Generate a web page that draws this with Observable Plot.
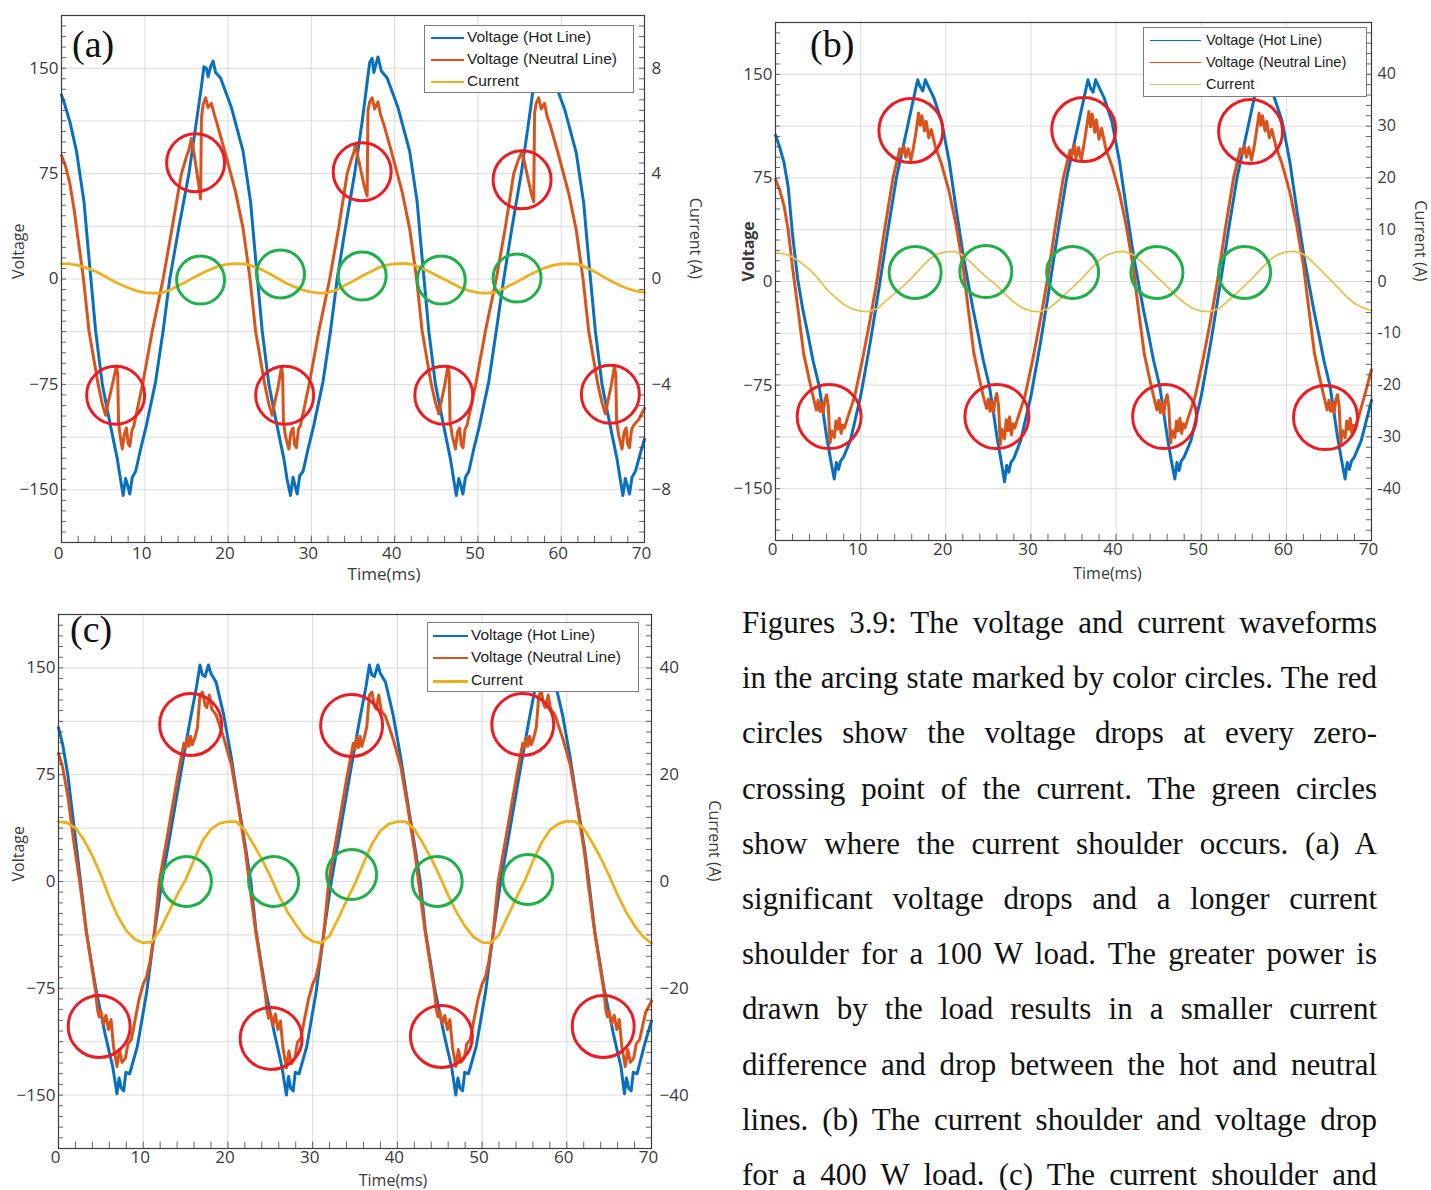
<!DOCTYPE html>
<html><head><meta charset="utf-8">
<script src="https://cdn.jsdelivr.net/npm/d3@7"></script>
<script src="https://cdn.jsdelivr.net/npm/@observablehq/plot@0.6"></script>
<style>
html,body{margin:0;padding:0;background:#fff}
body{position:relative;width:1431px;height:1190px;overflow:hidden;font-family:"Open Sans",sans-serif}
.panel{position:absolute}
.legend{position:absolute;background:#fff;border:1px solid #7d7d7d;font-family:"Liberation Sans",Arial,sans-serif;color:#222;box-sizing:border-box}
.li{position:absolute;white-space:nowrap;line-height:1}
.ll{position:absolute;height:0}
.tag{position:absolute;font-family:"Liberation Serif","Times New Roman",serif;font-size:38px;line-height:38px;color:#111}
.cap{position:absolute;left:742px;width:635px;font-family:"Liberation Serif","Times New Roman",serif;font-size:31px;line-height:55px;height:55px;text-align:justify;text-align-last:justify;color:#111;white-space:normal}
</style></head><body>
<script>
// ---------- shared ----------
const timeTicks = [0,10,20,30,40,50,60,70];
const voltTicks = [150,75,0,-75,-150];
const tCur = [0,1,2,3,4,5,6,7,8,9,10,11,12,13,14,15,16,17,18,19,20,21,22,23,24,25,26,27,28,29,30,31,32,33,34,35,36,37,38,39,40,41,42,43,44,45,46,47,48,49,50,51,52,53,54,55,56,57,58,59,60,61,62,63,64,65,66,67,68,69,70];
const seriesNames = ["Voltage (Hot Line)", "Voltage (Neutral Line)", "Current"];

// ---------- panel (a): [time ms, volts] ----------
const aHot = [[0,131],[0.4,124],[1,112],[1.8,91],[2.7,55],[3.1,28],[3.5,2],[4.1,-37],[4.9,-75],[5.8,-102],[6.7,-128],[7.1,-143],[7.4,-154],[7.7,-142],[7.95,-147],[8.2,-153],[8.5,-141],[8.9,-137],[9.5,-121],[10.2,-104],[11.3,-73],[12.2,-37],[13,0],[14.1,37],[15.3,75],[16.2,112],[16.8,137],[17.1,151],[17.4,150],[17.6,144],[17.9,151],[18.2,155],[18.5,147],[19.1,143],[20.4,122],[21.8,91],[22.7,55],[23.1,28],[23.5,2],[24.1,-37],[24.9,-75],[25.8,-102],[26.7,-128],[27.1,-143],[27.5,-154],[27.8,-141],[28,-146],[28.3,-153],[28.6,-140],[29,-137],[29.6,-121],[30.3,-104],[31.4,-73],[32.3,-37],[33.1,0],[34.1,37],[35.2,75],[36.1,112],[36.7,140],[37,154],[37.3,157],[37.5,147],[37.8,154],[38,158],[38.4,148],[39.1,143],[40.4,122],[41.8,91],[42.7,55],[43.1,28],[43.5,2],[44.1,-37],[44.9,-75],[45.8,-102],[46.7,-128],[47.1,-143],[47.4,-154],[47.7,-142],[47.95,-147],[48.2,-153],[48.5,-141],[48.9,-137],[49.5,-121],[50.2,-104],[51.3,-73],[52.2,-37],[53.1,0],[54.1,37],[55.2,75],[56.1,112],[56.7,138],[57,151],[57.3,152],[57.5,145],[57.8,151],[58.1,156],[58.4,147],[59.1,142],[60.4,121],[61.8,90],[62.7,54],[63.1,27],[63.5,1],[64.1,-37],[64.9,-75],[65.8,-102],[66.7,-128],[67.1,-143],[67.4,-154],[67.7,-142],[67.95,-147],[68.2,-153],[68.5,-141],[68.9,-137],[69.5,-124],[70,-114]];
const aNeu = [[0,88],[0.5,80],[1,68],[1.5,50],[2,28],[2.6,2],[3.3,-37],[4.4,-75],[4.9,-89],[5.3,-97],[5.6,-88],[6,-78],[6.3,-70],[6.6,-62],[6.75,-68],[6.85,-102],[7,-110],[7.3,-121],[7.55,-110],[7.8,-106],[8,-117],[8.2,-119],[8.45,-108],[8.7,-104],[9.2,-90],[9.8,-73],[10.9,-37],[12.2,0],[13.3,37],[14.4,75],[15,87],[15.3,92],[15.6,100],[15.9,90],[16.2,78],[16.5,66],[16.7,57],[16.8,114],[17,124],[17.3,129],[17.6,122],[18,125],[18.3,118],[18.7,110],[19.6,91],[20.9,62],[21.8,36],[22.6,2],[23.3,-37],[24.4,-75],[24.9,-89],[25.3,-97],[25.6,-88],[26,-77],[26.4,-63],[26.55,-68],[26.65,-102],[26.9,-112],[27.3,-121],[27.55,-109],[27.8,-106],[28,-118],[28.2,-120],[28.45,-107],[28.7,-104],[29.2,-90],[29.8,-73],[30.9,-37],[32.2,0],[33.3,37],[34.3,75],[34.8,85],[35.1,90],[35.3,95],[35.7,84],[36.1,73],[36.4,65],[36.7,59],[36.8,120],[37,126],[37.3,129],[37.6,121],[38,126],[38.3,117],[38.7,110],[39.6,91],[40.9,62],[41.8,36],[42.6,2],[43.3,-37],[44.4,-75],[44.9,-88],[45.3,-96],[45.6,-87],[46,-76],[46.4,-62],[46.55,-68],[46.65,-101],[46.9,-111],[47.3,-121],[47.55,-109],[47.8,-106],[48,-118],[48.2,-120],[48.45,-107],[48.7,-104],[49.2,-90],[49.8,-73],[50.9,-37],[52.2,0],[53.3,37],[54.3,75],[54.8,84],[55.1,88],[55.3,91],[55.7,80],[56.1,69],[56.4,61],[56.7,55],[56.8,118],[57,125],[57.3,129],[57.6,121],[58,125],[58.3,116],[58.7,109],[59.6,90],[60.9,61],[61.8,35],[62.6,1],[63.3,-37],[64.4,-75],[64.9,-88],[65.3,-96],[65.6,-87],[66,-76],[66.4,-62],[66.55,-68],[66.65,-101],[66.9,-111],[67.3,-121],[67.55,-109],[67.8,-106],[68,-118],[68.2,-120],[68.45,-107],[68.7,-104],[69.3,-100],[70,-92]];
const aCur = [0.58,0.57,0.52,0.42,0.30,0.14,-0.04,-0.20,-0.33,-0.45,-0.52,-0.54,-0.53,-0.42,-0.26,-0.10,0.08,0.24,0.38,0.50,0.56,0.58,0.57,0.49,0.36,0.20,0.02,-0.16,-0.30,-0.42,-0.50,-0.54,-0.52,-0.42,-0.25,-0.08,0.10,0.26,0.42,0.53,0.57,0.59,0.56,0.45,0.30,0.14,-0.02,-0.18,-0.34,-0.45,-0.52,-0.54,-0.51,-0.38,-0.22,-0.06,0.12,0.28,0.42,0.52,0.57,0.58,0.56,0.44,0.28,0.10,-0.08,-0.24,-0.37,-0.46,-0.51];
const aCurTicks = [8,4,0,-4,-8];
const aRed = [[16.1,82.7],[36.1,76.3],[55.3,70.6],[6.5,-82.7],[26.8,-82.7],[45.9,-82.7],[65.9,-82]];
const aGreen = [[16.7,-0.7],[26.3,3.6],[36.1,2.1],[45.6,-0.7],[54.7,0.7]];

// ---------- panel (b) ----------
const bHot = [[0,106],[0.5,97],[1,86],[1.5,68],[2,34],[2.6,2],[3.2,-20],[3.8,-38],[4.4,-57],[5.1,-75],[5.6,-95],[6,-112],[6.5,-130],[6.9,-143],[7.15,-131],[7.4,-136],[7.65,-130],[8,-127],[8.8,-115],[10,-83],[11.1,-45],[12.2,-3],[13.2,37],[14.2,75],[15.5,112],[16.2,132],[16.7,146],[17,141],[17.3,138],[17.6,146],[17.9,142],[18.6,133],[19.5,116],[20.4,87],[21.2,53],[22.1,17],[22.6,0],[23.2,-20],[23.8,-38],[24.4,-57],[25.1,-75],[25.6,-95],[26,-112],[26.5,-130],[26.9,-145],[27.15,-133],[27.4,-138],[27.65,-131],[28,-128],[28.8,-115],[30,-83],[31.1,-45],[32.2,-3],[33.2,37],[34.2,75],[35.5,112],[36.2,132],[36.7,146],[37,140],[37.3,137],[37.6,146],[37.9,142],[38.6,133],[39.5,116],[40.4,87],[41.2,53],[42.1,17],[42.6,0],[43.2,-20],[43.8,-38],[44.4,-57],[45.1,-75],[45.6,-95],[46,-112],[46.5,-130],[46.9,-143],[47.15,-131],[47.4,-137],[47.65,-130],[48,-127],[48.8,-115],[50,-83],[51.1,-45],[52.2,-3],[53.2,37],[54.2,75],[55.5,112],[56.2,132],[56.7,146],[57,141],[57.3,138],[57.6,146],[57.9,142],[58.6,133],[59.5,116],[60.4,87],[61.2,53],[62.1,17],[62.6,0],[63.2,-20],[63.8,-38],[64.4,-57],[65.1,-75],[65.6,-95],[66,-112],[66.5,-130],[66.9,-143],[67.15,-131],[67.4,-136],[67.65,-130],[68,-127],[68.8,-115],[70,-86]];
const bNeu = [[0,74],[0.5,66],[1,55],[1.5,37],[2,10],[2.6,-18],[3.3,-52],[4,-72],[4.4,-83],[4.8,-93],[5,-86],[5.2,-94],[5.4,-88],[5.6,-95],[5.8,-86],[6,-82],[6.2,-90],[6.4,-117],[6.6,-108],[6.9,-113],[7.1,-101],[7.3,-107],[7.5,-99],[7.7,-110],[7.9,-104],[8.1,-106],[8.4,-100],[9.3,-83],[10.2,-57],[11.1,-28],[11.9,0],[12.8,37],[13.8,75],[14.6,96],[14.8,92],[15.1,98],[15.3,90],[15.6,96],[15.9,88],[16.2,97],[16.5,108],[16.8,122],[17,113],[17.2,120],[17.5,109],[17.7,116],[18,104],[18.3,110],[18.8,97],[19.5,85],[20.4,65],[21.2,41],[22,12],[22.6,-18],[23.3,-52],[24,-72],[24.4,-83],[24.8,-92],[25,-85],[25.2,-94],[25.4,-87],[25.6,-95],[25.8,-85],[26,-81],[26.2,-90],[26.4,-118],[26.6,-107],[26.9,-114],[27.1,-100],[27.3,-108],[27.5,-98],[27.7,-111],[27.9,-103],[28.1,-106],[28.4,-100],[29.3,-83],[30.2,-57],[31.1,-28],[31.9,0],[32.8,37],[33.8,75],[34.6,95],[34.8,91],[35.1,99],[35.3,89],[35.6,97],[35.9,88],[36.2,98],[36.5,110],[36.8,123],[37,112],[37.2,121],[37.5,108],[37.7,117],[38,103],[38.3,111],[38.8,96],[39.5,84],[40.4,64],[41.2,40],[42,11],[42.6,-19],[43.3,-52],[44,-72],[44.4,-83],[44.8,-93],[45,-86],[45.2,-95],[45.4,-88],[45.6,-96],[45.8,-86],[46,-82],[46.2,-91],[46.4,-117],[46.6,-108],[46.9,-113],[47.1,-101],[47.3,-108],[47.5,-99],[47.7,-110],[47.9,-103],[48.1,-106],[48.4,-100],[49.3,-83],[50.2,-57],[51.1,-28],[51.9,0],[52.8,37],[53.8,75],[54.6,96],[54.8,92],[55.1,98],[55.3,90],[55.6,97],[55.9,88],[56.2,97],[56.5,109],[56.8,122],[57,113],[57.2,120],[57.5,109],[57.7,116],[58,104],[58.3,110],[58.8,97],[59.5,85],[60.4,65],[61.2,41],[62,12],[62.6,-18],[63.3,-52],[64,-72],[64.4,-83],[64.8,-93],[65,-86],[65.2,-94],[65.4,-88],[65.6,-95],[65.8,-86],[66,-82],[66.2,-90],[66.4,-117],[66.6,-108],[66.9,-113],[67.1,-101],[67.3,-107],[67.5,-99],[67.7,-110],[67.9,-104],[68.1,-106],[68.4,-100],[69.3,-80],[70,-64]];
const bCur = [5.5,5.4,4.7,3.6,2.3,0.6,-1.5,-3.0,-4.4,-5.3,-5.7,-5.8,-5.2,-3.7,-2.3,-0.9,0.7,2.5,4.2,5.3,5.7,5.8,5.1,3.6,2.0,0.5,-0.8,-2.5,-4.0,-5.1,-5.7,-5.8,-5.3,-4.0,-2.5,-1.0,0.6,2.4,4.1,5.2,5.7,5.8,5.2,3.8,2.2,0.6,-1.0,-2.7,-4.1,-5.2,-5.7,-5.8,-5.3,-4.0,-2.5,-1.0,0.6,2.4,4.1,5.2,5.7,5.8,5.3,3.9,2.3,0.6,-1.1,-2.8,-4.2,-5.1,-5.6];
const bCurTicks = [40,30,20,10,0,-10,-20,-30,-40];
const bRed = [[15.9,109.3],[36.2,110],[55.8,108.6],[6.3,-97.8],[26,-97.8],[45.7,-97.8],[64.6,-98.5]];
const bGreen = [[16.4,6.5],[24.7,7.2],[34.9,6.5],[44.8,6.5],[55.1,6.5]];

// ---------- panel (c) ----------
const cHot = [[0,108],[0.5,96],[1.1,75],[1.8,40],[2.6,0],[3.3,-36],[4.4,-75],[5.5,-107],[6,-120],[6.4,-130],[6.9,-149],[7.15,-138],[7.4,-145],[7.7,-147],[7.95,-134],[8.4,-135],[9.3,-116],[10.4,-78],[11.3,-37],[12.2,0],[13.3,37],[14.4,75],[15.5,112],[16.3,137],[16.7,152],[17,145],[17.3,144],[17.7,152],[18,146],[18.6,140],[19.5,117],[20.4,87],[21.2,56],[22.1,23],[22.7,0],[23.3,-34],[24.4,-75],[25.5,-107],[26,-120],[26.4,-131],[26.9,-150],[27.15,-137],[27.4,-145],[27.7,-147],[27.95,-134],[28.4,-135],[29.3,-116],[30.4,-78],[31.3,-37],[32.2,0],[33.3,37],[34.4,75],[35.5,112],[36.3,137],[36.7,152],[37,145],[37.3,144],[37.7,152],[38,146],[38.6,140],[39.5,117],[40.4,87],[41.2,56],[42.1,23],[42.7,0],[43.3,-34],[44.4,-75],[45.5,-107],[46,-120],[46.4,-130],[46.9,-150],[47.15,-138],[47.4,-145],[47.7,-147],[47.95,-134],[48.4,-135],[49.3,-116],[50.4,-78],[51.3,-37],[52.2,0],[53.3,37],[54.4,75],[55.5,112],[56.3,137],[56.7,152],[57,145],[57.3,144],[57.7,152],[58,146],[58.6,140],[59.5,117],[60.4,87],[61.2,56],[62.1,23],[62.6,0],[63.3,-35],[64.4,-75],[65.5,-107],[66,-120],[66.4,-130],[66.8,-149],[67.05,-138],[67.3,-145],[67.6,-147],[67.85,-134],[68.3,-135],[69.2,-114],[70,-98]];
const cNeu = [[0,90],[0.5,80],[1.1,60],[1.8,28],[2.5,0],[3.3,-36],[4.4,-78],[4.6,-90],[4.8,-95],[5,-91],[5.3,-100],[5.6,-94],[5.9,-104],[6.2,-97],[6.5,-116],[6.9,-130],[7.2,-118],[7.5,-127],[7.9,-124],[8.2,-114],[8.6,-111],[9.5,-83],[10,-72],[10.4,-67],[10.8,-56],[11.3,-37],[11.9,0],[13,37],[14.1,75],[14.8,97],[15,94],[15.2,101],[15.4,95],[15.6,102],[15.8,96],[16.1,101],[16.4,108],[16.7,131],[17,133],[17.3,124],[17.5,122],[17.8,131],[18.1,121],[18.6,117],[19.5,101],[20.4,82],[21.2,54],[22.1,20],[22.5,0],[23.3,-36],[24.4,-78],[24.6,-90],[24.8,-96],[25,-92],[25.3,-101],[25.6,-93],[25.9,-104],[26.2,-98],[26.5,-117],[26.9,-131],[27.2,-119],[27.5,-128],[27.9,-124],[28.2,-113],[28.6,-110],[29.5,-83],[30,-72],[30.4,-67],[30.8,-56],[31.3,-37],[31.9,0],[33,37],[34.1,75],[34.8,97],[35,93],[35.2,101],[35.4,94],[35.6,102],[35.8,95],[36.1,101],[36.4,109],[36.7,131],[37,133],[37.3,123],[37.5,121],[37.8,131],[38.1,120],[38.6,116],[39.5,100],[40.4,81],[41.2,53],[42.1,19],[42.5,0],[43.3,-36],[44.4,-78],[44.6,-90],[44.8,-95],[45,-91],[45.3,-100],[45.6,-94],[45.9,-104],[46.2,-97],[46.5,-116],[46.9,-130],[47.2,-118],[47.5,-127],[47.9,-124],[48.2,-114],[48.6,-111],[49.5,-83],[50,-72],[50.4,-67],[50.8,-56],[51.3,-37],[51.9,0],[53,37],[54.1,75],[54.8,97],[55,94],[55.2,101],[55.4,95],[55.6,102],[55.8,96],[56.1,101],[56.4,108],[56.7,131],[57,133],[57.3,124],[57.5,122],[57.8,131],[58.1,121],[58.6,117],[59.5,101],[60.4,82],[61.2,54],[62.1,20],[62.5,0],[63.3,-36],[64.4,-78],[64.6,-90],[64.8,-95],[65,-91],[65.3,-100],[65.6,-94],[65.9,-104],[66.2,-97],[66.5,-116],[66.9,-130],[67.2,-118],[67.5,-127],[67.9,-124],[68.2,-114],[68.6,-111],[69.3,-92],[70,-84]];
const cCur = [11.2,11.0,10.0,7.8,4.8,1.2,-3.0,-6.5,-9.2,-10.8,-11.5,-11.3,-9.0,-5.8,-2.5,0.3,4.0,7.6,9.8,10.9,11.2,11.2,9.6,7.0,4.2,1.0,-2.6,-5.6,-8.0,-10.2,-11.2,-11.5,-10.2,-7.0,-3.6,-0.4,3.4,7.0,9.5,10.8,11.2,11.2,9.8,7.2,4.3,1.0,-2.6,-5.8,-8.4,-10.4,-11.4,-11.5,-10.0,-6.6,-3.2,0.0,3.8,7.2,9.6,10.8,11.3,11.2,9.9,7.3,4.4,1.1,-2.5,-5.7,-8.3,-10.3,-11.6];
const cCurTicks = [40,20,0,-20,-40];
const cRed = [[15.6,110.3],[34.6,109.6],[54.8,110.3],[4.8,-101.8],[25.1,-110.2],[45.2,-108.8],[64.3,-101.8]];
const cGreen = [[15.1,0],[25.4,0],[34.6,4.9],[44.7,0],[55.4,1.4]];

const captionLines = [
  "Figures 3.9: The voltage and current waveforms",
  "in the arcing state marked by color circles. The red",
  "circles show the voltage drops at every zero-",
  "crossing point of the current. The green circles",
  "show where the current shoulder occurs. (a) A",
  "significant voltage drops and a longer current",
  "shoulder for a 100 W load. The greater power is",
  "drawn by the load results in a smaller current",
  "difference and drop between the hot and neutral",
  "lines. (b) The current shoulder and voltage drop",
  "for a 400 W load. (c) The current shoulder and"
];

// ---------- styling ----------
const C = {hot:"#0b6fc0", neu:"#d9541c", cur:"#edb120", red:"#ec1c24", green:"#20b04a", frame:"#3c3c3c", grid:"#dcdcdc"};
const vGrid = [-150,-112.5,-75,-37.5,0,37.5,75,112.5,150];
const xGrid = [10,20,30,40,50,60];
const vMinor = d3.range(-187.5, 187.6, 7.5);
const tMinor = d3.range(0, 70.1, 2);
const minus = s => String(s).replace("-", "\u2212");

function panel(o) {
  const f = o.factor;
  const cur = tCur.map((t, i) => ({t, i: o.cur[i]}));
  return Plot.plot({
    width: o.w, height: o.h,
    marginLeft: o.ml, marginRight: o.mr, marginTop: o.mt, marginBottom: o.mb,
    x: {domain: [0, 70]},
    y: {domain: [-187.5, 187.5]},
    style: {fontFamily: "'Open Sans', sans-serif", fontSize: "17px", color: "#3a3a3a", background: "transparent", overflow: "visible"},
    marks: [
      Plot.gridX(xGrid, {stroke: C.grid, strokeOpacity: 1}),
      Plot.gridY(vGrid, {stroke: C.grid, strokeOpacity: 1}),
      Plot.line(o.hot, {x: d => d[0], y: d => d[1], stroke: C.hot, strokeWidth: o.sw}),
      Plot.line(o.neu, {x: d => d[0], y: d => d[1], stroke: C.neu, strokeWidth: o.sw}),
      Plot.line(cur, {x: "t", y: d => d.i * f, stroke: o.curColor, strokeWidth: o.cw}),
      Plot.dot(o.red, {x: d => d[0], y: d => d[1], r: o.rr, stroke: C.red, strokeWidth: 3, fill: "none"}),
      Plot.dot(o.green, {x: d => d[0], y: d => d[1], r: o.rg, stroke: C.green, strokeWidth: 3, fill: "none"}),
      Plot.ruleY(vMinor, {x1: 0, x2: 0.6, stroke: C.frame, strokeWidth: 0.8}),
      Plot.ruleY(vMinor, {x1: 69.4, x2: 70, stroke: C.frame, strokeWidth: 0.8}),
      Plot.ruleX(tMinor, {y1: -187.5, y2: -183, stroke: C.frame, strokeWidth: 0.8}),
      Plot.frame({stroke: C.frame, strokeWidth: 1.2}),
      Plot.axisY({anchor: "left", ticks: voltTicks, tickSize: 0, tickPadding: 3, tickFormat: minus, label: null}),
      Plot.axisY({anchor: "right", ticks: o.curTicks.map(v => v * f), tickSize: 0, tickPadding: o.rp, fontSize: o.rfs,
        tickFormat: v => o.rfmt(Math.round(v / f)), label: null}),
      Plot.axisX({ticks: timeTicks, tickSize: 0, tickPadding: o.xp, dx: -3, label: null}),
      Plot.text(["Voltage"], {text: d => d, frameAnchor: "left", dx: -o.vdx, rotate: -90, fontSize: 16, fontWeight: o.vw}),
      Plot.text(["Current (A)"], {text: d => d, frameAnchor: "right", dx: o.cdx, rotate: 90, fontSize: 16, letterSpacing: "0.5px"}),
      Plot.text(["Time(ms)"], {text: d => d, frameAnchor: "bottom", dx: o.tdx, dy: o.tdy, fontSize: o.tfs})
    ]
  });
}

function place(node, left, top) {
  node.classList.add("panel");
  node.style.left = left + "px";
  node.style.top = top + "px";
  document.body.appendChild(node);
}

place(panel({w: 720, h: 600, ml: 61, mr: 76, mt: 15, mb: 58, factor: 18.75,
  hot: aHot, neu: aNeu, cur: aCur, curTicks: aCurTicks, curColor: C.cur, sw: 3, cw: 2.8,
  red: aRed, green: aGreen, rr: 29, rg: 24, rp: 7, rfs: 17, rfmt: minus, xp: 4,
  vdx: 43, vw: "normal", cdx: 51, tdx: 31, tdy: 37, tfs: 17}), 0, 0);

place(panel({w: 711, h: 600, ml: 55, mr: 60, mt: 22, mb: 60, factor: 3.75,
  hot: bHot, neu: bNeu, cur: bCur, curTicks: bCurTicks, curColor: "#e6c050", sw: 3, cw: 1.8,
  red: bRed, green: bGreen, rr: 32, rg: 26, rp: 6, rfs: 16, rfmt: v => String(v), xp: 2,
  vdx: 27, vw: "bold", cdx: 49, tdx: 34, tdy: 38, tfs: 16}), 720, 0);

place(panel({w: 720, h: 590, ml: 58, mr: 69, mt: 14, mb: 42, factor: 3.75,
  hot: cHot, neu: cNeu, cur: cCur, curTicks: cCurTicks, curColor: C.cur, sw: 3, cw: 2.8,
  red: cRed, green: cGreen, rr: 31, rg: 25, rp: 8, rfs: 17, rfmt: minus, xp: 2,
  vdx: 40, vw: "normal", cdx: 63, tdx: 38, tdy: 37, tfs: 16}), 0, 600);

// ---------- legends ----------
function legend(box, lineX0, lineX1, textX, rows, fs, widths) {
  const d = document.createElement("div");
  d.className = "legend";
  Object.assign(d.style, {left: box[0] + "px", top: box[1] + "px", width: (box[2] - box[0]) + "px", height: (box[3] - box[1]) + "px"});
  const colors = [C.hot, C.neu, widths.curColor];
  seriesNames.forEach((name, k) => {
    const ln = document.createElement("div");
    ln.className = "ll";
    Object.assign(ln.style, {left: (lineX0 - box[0]) + "px", width: (lineX1 - lineX0) + "px",
      top: Math.round(rows[k] - box[1] - widths.w[k] / 2) + "px", borderTop: widths.w[k] + "px solid " + colors[k]});
    d.appendChild(ln);
    const tx = document.createElement("div");
    tx.className = "li";
    tx.textContent = name;
    Object.assign(tx.style, {left: (textX - box[0]) + "px", top: (rows[k] - box[1] - fs / 2 - 1) + "px", fontSize: fs + "px"});
    d.appendChild(tx);
  });
  document.body.appendChild(d);
}
legend([424, 25, 634, 93], 430, 463, 466, [37, 59, 81], 15.5, {w: [2, 2, 2], curColor: C.cur});
legend([1143, 27, 1367, 97], 1149, 1200, 1205, [40, 62, 84], 14.5, {w: [1.5, 1.5, 1.5], curColor: "#e6c050"});
legend([427, 622, 639, 692], 432, 467, 470, [635, 657, 680], 15.5, {w: [2, 2, 3], curColor: C.cur});

// ---------- panel tags ----------
[["(a)", 72, 25], ["(b)", 810, 25], ["(c)", 70, 610]].forEach(([s, x, y]) => {
  const t = document.createElement("div");
  t.className = "tag"; t.textContent = s;
  t.style.left = x + "px"; t.style.top = y + "px";
  document.body.appendChild(t);
});

// ---------- caption ----------
captionLines.forEach((s, i) => {
  const c = document.createElement("div");
  c.className = "cap";
  c.textContent = s;
  c.style.top = (595 + i * 55.2) + "px";
  document.body.appendChild(c);
});
</script>
</body></html>
